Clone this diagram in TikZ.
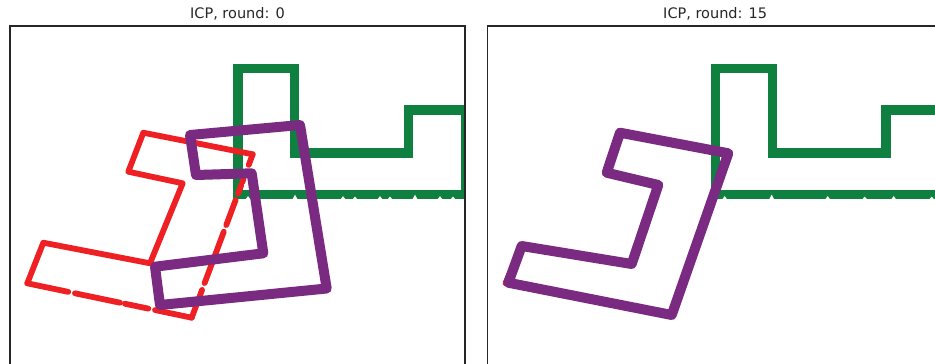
\documentclass[tikz,border=0pt]{standalone}
\usepackage{fontspec}
\setmainfont{DejaVu Sans}
\usetikzlibrary{calc}
\definecolor{tgreen}{HTML}{0F8040}
\definecolor{tred}{HTML}{EE2024}
\definecolor{tpurple}{HTML}{7B2A81}
\definecolor{spine}{HTML}{262626}
\newcommand\greenshape{%
  \coordinate (g1) at (238,68.3);
  \coordinate (g2) at (294.7,68.3);
  \coordinate (g3) at (294.7,152.8);
  \coordinate (g4) at (408.3,152.8);
  \coordinate (g5) at (408.3,110);
  \coordinate (g6) at (466,110);
  \coordinate (g7) at (466,194.2);
  \coordinate (g8) at (238,194.2);
  \draw[greenline] (g1) -- (g2) -- (g3) -- (g4) -- (g5) -- (g6) -- (g7) -- (g8) -- cycle;
}
\newcommand\notch[2]{\fill[white] (#1-2.6,199.6) -- (#1,199.6-#2) -- (#1+2.6,199.6) -- cycle;}
\tikzset{
  greenline/.style={draw=tgreen, line width=9.4pt, miter limit=10},
  redline/.style={draw=tred, line width=5.8pt, line cap=round, line join=round},
  purpleline/.style={draw=tpurple, line width=10pt, line cap=round, line join=round},
  frame/.style={draw=spine, line width=1.2pt},
  ttl/.style={font=\fontsize{14.5}{17}\selectfont, text=black!85, anchor=base, inner sep=0pt}
}
\begin{document}
\begin{tikzpicture}[x=1pt,y=-1pt]
\useasboundingbox (0,0) rectangle (935,364);
\fill[white] (0,0) rectangle (935,364);

% ---------- left panel ----------
\begin{scope}
\clip (10,26) rectangle (465,370);
\greenshape
\foreach \p/\h in {248/3.5,295/5,343/3.5,355/3,380/3.5,390/3,415/5,440/3.5,453/3}{\notch{\p}{\h}}
\coordinate (ra) at (143.3,132.7);
\coordinate (rb) at (252.7,154.3);
\coordinate (rc) at (191.7,317.7);
\coordinate (rd) at (27.3,283.3);
\coordinate (re) at (43.3,242.7);
\coordinate (rf) at (150,263.3);
\coordinate (rg) at (182.7,183.3);
\coordinate (rh) at (128.3,171.7);
\draw[redline] (rd) -- (re) -- (rf) -- (rg) -- (rh) -- (ra) -- (rb);
\foreach \a/\b in {0/0.072,0.088/0.170,0.212/0.335,0.373/0.526,0.567/0.720,0.761/0.812,0.829/0.85,0.935/1}{
  \draw[redline] ($(rc)!\a!(rb)$) -- ($(rc)!\b!(rb)$);}
\foreach \a/\b in {0/0.249,0.29/0.564,0.594/0.736,0.777/1}{
  \draw[redline] ($(rd)!\a!(rc)$) -- ($(rd)!\b!(rc)$);}
\coordinate (pa) at (190,135);
\coordinate (pb) at (300,125);
\coordinate (pc) at (326.7,288.5);
\coordinate (pd) at (160,305);
\coordinate (pe) at (155,266.7);
\coordinate (pf) at (263.3,253.3);
\coordinate (pg) at (251.7,173.3);
\coordinate (ph) at (196,175);
\draw[purpleline] (pa) -- (pb) -- (pc) -- (pd) -- (pe) -- (pf) -- (pg) -- (ph) -- cycle;
\end{scope}
\draw[frame] (10,364.4) -- (10,26) -- (465,26) -- (465,364.4) -- cycle;
\node[ttl] (t1) at (237.5,18.3) {ICP, round: 0};

% ---------- right panel ----------
\begin{scope}
\clip (487.7,26) rectangle (942.7,370);
\begin{scope}[xshift=477.7pt]
\greenshape
\foreach \p/\h in {247/3.5,294/5,350/3.5,387/3,416/3.5,454/3}{\notch{\p}{\h}}
\end{scope}
\coordinate (qa) at (620,132.7);
\coordinate (qb) at (728.3,153.3);
\coordinate (qc) at (671.7,315);
\coordinate (qd) at (508.3,282.7);
\coordinate (qe) at (521.7,246);
\coordinate (qf) at (631.7,264);
\coordinate (qg) at (658.3,185);
\coordinate (qh) at (606.7,172.7);
\coordinate (sd) at (505.5,283.3);
\coordinate (sc) at (670.5,314);
\draw[redline] (qa) -- (qb) -- (sc) -- (sd) -- (qe) -- (qf) -- (qg) -- (qh) -- cycle;
\draw[purpleline] (qa) -- (qb) -- (qc) -- (qd) -- (qe) -- (qf) -- (qg) -- (qh) -- cycle;
\end{scope}
\draw[frame] (487.7,364.4) -- (487.7,26) -- (942.7,26) -- (942.7,364.4);
\node[ttl] (t2) at (715.2,18.3) {ICP, round: 15};
\end{tikzpicture}
\end{document}
